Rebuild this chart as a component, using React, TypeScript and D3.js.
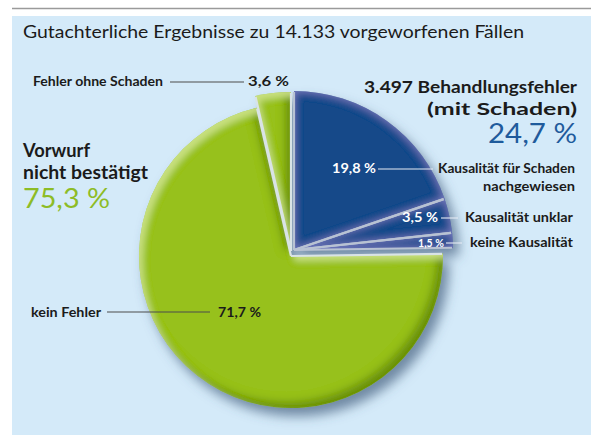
import { useEffect, useRef } from "react";
import * as d3 from "d3";

// Daten
const chartTitle = "Gutachterliche Ergebnisse zu 14.133 vorgeworfenen Fällen";
const sliceNames = ["Kausalität für Schaden nachgewiesen", "Kausalität unklar", "keine Kausalität", "kein Fehler", "Fehler ohne Schaden"];
const sliceValues = [19.8, 3.5, 1.5, 71.7, 3.6];
const sliceGroups = ["fehler", "fehler", "fehler", "kein", "kein"];
const sliceLabels = ["19,8 %", "3,5 %", "1,5 %", "71,7 %", "3,6 %"];
const groupTitleFehler = ["3.497 Behandlungsfehler", "(mit Schaden)"];
const groupShareFehler = "24,7 %";
const groupTitleKein = ["Vorwurf", "nicht bestätigt"];
const groupShareKein = "75,3 %";

const W = 591;
const H = 435;
const FONT = "Lato, 'Open Sans', sans-serif";

const App = () => {
    const svgRef = useRef<SVGSVGElement | null>(null);

    useEffect(() => {
        const svg = d3.select(svgRef.current);
        svg.selectAll("*").remove();

        const defs = svg.append("defs");

        // Schlagschatten
        const shadow = defs.append("filter").attr("id", "shadow")
            .attr("x", "-20%").attr("y", "-20%").attr("width", "140%").attr("height", "140%");
        shadow.append("feGaussianBlur").attr("in", "SourceAlpha").attr("stdDeviation", 6).attr("result", "b");
        shadow.append("feOffset").attr("in", "b").attr("dx", 6).attr("dy", 8).attr("result", "o");
        shadow.append("feFlood").attr("flood-color", "#45607f").attr("flood-opacity", 0.7).attr("result", "c");
        shadow.append("feComposite").attr("in", "c").attr("in2", "o").attr("operator", "in").attr("result", "s");
        const sm = shadow.append("feMerge");
        sm.append("feMergeNode").attr("in", "s");
        sm.append("feMergeNode").attr("in", "SourceGraphic");

        // Relief für grün
        const bevel = defs.append("filter").attr("id", "bevelGreen")
            .attr("x", "-10%").attr("y", "-10%").attr("width", "120%").attr("height", "120%");
        bevel.append("feOffset").attr("in", "SourceAlpha").attr("dx", -6).attr("dy", -6).attr("result", "up");
        bevel.append("feGaussianBlur").attr("in", "up").attr("stdDeviation", 4).attr("result", "upb");
        bevel.append("feComposite").attr("in", "SourceAlpha").attr("in2", "upb").attr("operator", "out").attr("result", "darkMask");
        bevel.append("feFlood").attr("flood-color", "#5f860c").attr("flood-opacity", 0.85).attr("result", "dc");
        bevel.append("feComposite").attr("in", "dc").attr("in2", "darkMask").attr("operator", "in").attr("result", "dark");
        bevel.append("feOffset").attr("in", "SourceAlpha").attr("dx", 4).attr("dy", 5).attr("result", "dn");
        bevel.append("feGaussianBlur").attr("in", "dn").attr("stdDeviation", 3).attr("result", "dnb");
        bevel.append("feComposite").attr("in", "SourceAlpha").attr("in2", "dnb").attr("operator", "out").attr("result", "lightMask");
        bevel.append("feFlood").attr("flood-color", "#d2e78c").attr("flood-opacity", 0.8).attr("result", "lc");
        bevel.append("feComposite").attr("in", "lc").attr("in2", "lightMask").attr("operator", "in").attr("result", "light");
        const bm = bevel.append("feMerge");
        bm.append("feMergeNode").attr("in", "SourceGraphic");
        bm.append("feMergeNode").attr("in", "dark");
        bm.append("feMergeNode").attr("in", "light");

        // Leuchtrand für blau
        const glow = defs.append("filter").attr("id", "glowBlue")
            .attr("x", "-10%").attr("y", "-10%").attr("width", "120%").attr("height", "120%");
        glow.append("feGaussianBlur").attr("in", "SourceAlpha").attr("stdDeviation", 5).attr("result", "b");
        glow.append("feComponentTransfer").attr("in", "b").attr("result", "inv")
            .append("feFuncA").attr("type", "table").attr("tableValues", "1 0");
        glow.append("feComposite").attr("in", "inv").attr("in2", "SourceAlpha").attr("operator", "in").attr("result", "rim");
        glow.append("feFlood").attr("flood-color", "#7c80c6").attr("flood-opacity", 1).attr("result", "gc");
        glow.append("feComposite").attr("in", "gc").attr("in2", "rim").attr("operator", "in").attr("result", "g");
        const gm = glow.append("feMerge");
        gm.append("feMergeNode").attr("in", "SourceGraphic");
        gm.append("feMergeNode").attr("in", "g");

        // Hintergrund
        svg.append("line").attr("x1", 12).attr("x2", W).attr("y1", 8.5).attr("y2", 8.5)
            .attr("stroke", "#9a9a9a").attr("stroke-width", 1.5);
        svg.append("rect").attr("x", 12).attr("y", 16).attr("width", W - 12).attr("height", H - 16)
            .attr("fill", "#d4eaf9");

        // Torte
        const center: [number, number] = [291, 256];
        const layout: Record<string, { dx: number; dy: number; r: number }> = {
            fehler: { dx: 3, dy: -6, r: 159 },
            kein: { dx: 0, dy: 0, r: 152 },
            small: { dx: 0, dy: -5, r: 159 },
        };
        const pie = d3.pie<number>().sort(null).value((d) => d);
        const arcs = pie(sliceValues);

        const slot = (i: number) => {
            if (sliceGroups[i] === "fehler") return layout.fehler;
            return sliceValues[i] > 10 ? layout.kein : layout.small;
        };

        const pieG = svg.append("g").attr("filter", "url(#shadow)");
        arcs.forEach((a, i) => {
            const s = slot(i);
            const arc = d3.arc<d3.PieArcDatum<number>>().innerRadius(0).outerRadius(s.r);
            pieG.append("path")
                .attr("transform", `translate(${center[0] + s.dx},${center[1] + s.dy})`)
                .attr("d", arc(a))
                .attr("fill", sliceGroups[i] === "fehler" ? "#124a89" : "#97c11f")
                .attr("filter", sliceGroups[i] === "fehler" ? "url(#glowBlue)" : "url(#bevelGreen)")
                .append("title").text(sliceNames[i]);
        });

        // Trennlinien
        const edgeG = svg.append("g");
        arcs.forEach((a, i) => {
            const s = slot(i);
            const cx = center[0] + s.dx;
            const cy = center[1] + s.dy;
            [a.startAngle, a.endAngle].forEach((ang) => {
                edgeG.append("line")
                    .attr("x1", cx).attr("y1", cy)
                    .attr("x2", cx + Math.sin(ang) * (s.r - 1))
                    .attr("y2", cy - Math.cos(ang) * (s.r - 1))
                    .attr("stroke", sliceGroups[i] === "fehler" ? "#b8c2d3" : "#d9e3e6")
                    .attr("stroke-width", 2.2);
            });
        });

        // Texte
        const txt = (x: number, y: number, t: string, size: number, weight: number, fill: string, width: number, anchor = "start") => {
            svg.append("text")
                .attr("x", x).attr("y", y)
                .attr("font-family", FONT)
                .attr("font-size", size)
                .attr("font-weight", weight)
                .attr("fill", fill)
                .attr("text-anchor", anchor)
                .attr("textLength", width)
                .attr("lengthAdjust", "spacingAndGlyphs")
                .text(t);
        };
        const lead = (x1: number, x2: number, y: number, color: string) => {
            svg.append("line").attr("x1", x1).attr("x2", x2).attr("y1", y).attr("y2", y)
                .attr("stroke", color).attr("stroke-width", 1.1);
        };

        const dark = "#1b1b1b";
        txt(23, 38, chartTitle, 17.5, 400, dark, 501);

        txt(33, 86, sliceNames[4], 13, 700, dark, 130);
        lead(170, 244, 82, "#4d4d4d");
        txt(248, 86, sliceLabels[4], 13, 700, dark, 41);

        txt(23, 157, groupTitleKein[0], 19, 700, dark, 67);
        txt(23, 179, groupTitleKein[1], 19, 700, dark, 125);
        txt(23, 208, groupShareKein, 26, 400, "#8dbc26", 87);

        txt(577, 93, groupTitleFehler[0], 17.5, 700, dark, 213, "end");
        txt(577, 115, groupTitleFehler[1], 17.5, 700, dark, 150, "end");
        txt(577, 143, groupShareFehler, 26, 400, "#1f5b9c", 89, "end");

        txt(332, 173, sliceLabels[0], 12.5, 700, "#ffffff", 44);
        lead(378, 433, 169, "#e6ecf4");
        txt(575, 173, "Kausalität für Schaden", 13, 700, dark, 137, "end");
        txt(575, 191, "nachgewiesen", 13, 700, dark, 92, "end");

        txt(402, 222, sliceLabels[1], 12.5, 700, "#ffffff", 36);
        lead(441, 458, 218, "#e6ecf4");
        txt(573, 222, sliceNames[1], 13, 700, dark, 108, "end");

        txt(418, 247, sliceLabels[2], 11, 700, "#ffffff", 26);
        lead(446, 462, 243, "#e6ecf4");
        txt(573, 247, sliceNames[2], 13, 700, dark, 103, "end");

        txt(31, 317, sliceNames[3], 13, 700, dark, 70);
        lead(107, 210, 312, "#4d4d4d");
        txt(218, 317, sliceLabels[3], 13, 700, dark, 43);
    }, []);

    return (
        <svg
            ref={svgRef}
            width={W}
            height={H}
            style={{ position: "fixed", left: 0, top: 0, background: "#ffffff" }}
        />
    );
};

export default App;
